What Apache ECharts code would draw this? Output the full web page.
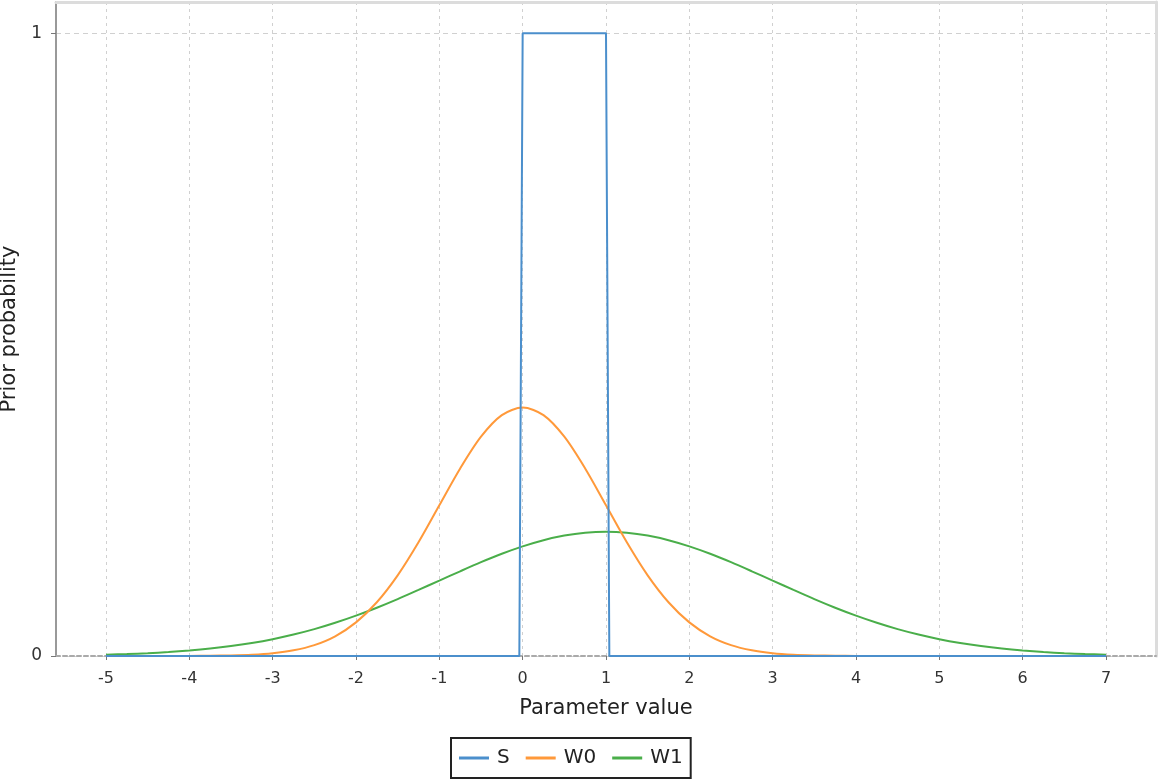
<!DOCTYPE html>
<html>
<head>
<meta charset="utf-8">
<script src="https://cdn.jsdelivr.net/npm/echarts@6/dist/echarts.min.js"></script>
<style>
html,body{margin:0;padding:0;background:#fff;}
#chart{width:1158px;height:782px;}
</style>
</head>
<body>
<div id="chart"></div>
<script>
// Tick labels
var xTicks = [-5, -4, -3, -2, -1, 0, 1, 2, 3, 4, 5, 6, 7];
var yTicks = [0, 1];

// Sample positions for the smooth curves
var xs = [-5, -4.75, -4.5, -4.25, -4, -3.75, -3.5, -3.25, -3, -2.75, -2.5, -2.25, -2, -1.75, -1.5, -1.25,
  -1, -0.75, -0.5, -0.25, 0, 0.25, 0.5, 0.75, 1, 1.25, 1.5, 1.75, 2, 2.25, 2.5, 2.75, 3, 3.25, 3.5, 3.75,
  4, 4.25, 4.5, 4.75, 5, 5.25, 5.5, 5.75, 6, 6.25, 6.5, 6.75, 7];

// W0 values
var w0 = [0, 0, 0, 0, 0.0001, 0.0004, 0.0009, 0.0020, 0.0044, 0.0091, 0.0175, 0.0317, 0.0540, 0.0863, 0.1295, 0.1826,
  0.2420, 0.3011, 0.3521, 0.3867, 0.3989, 0.3867, 0.3521, 0.3011, 0.2420, 0.1826, 0.1295, 0.0863, 0.0540, 0.0317, 0.0175, 0.0091,
  0.0044, 0.0020, 0.0009, 0.0004, 0.0001, 0, 0, 0, 0, 0, 0, 0, 0, 0, 0, 0, 0];

// W1 values
var w1 = [0.0022, 0.0032, 0.0045, 0.0064, 0.0088, 0.0119, 0.0159, 0.0209, 0.0270, 0.0344, 0.0431, 0.0533, 0.0648, 0.0775, 0.0913, 0.1061,
  0.1210, 0.1360, 0.1506, 0.1641, 0.1760, 0.1859, 0.1933, 0.1979, 0.1995, 0.1979, 0.1933, 0.1859, 0.1760, 0.1641, 0.1506, 0.1360,
  0.1210, 0.1061, 0.0913, 0.0775, 0.0648, 0.0533, 0.0431, 0.0344, 0.0270, 0.0209, 0.0159, 0.0119, 0.0088, 0.0064, 0.0045, 0.0032, 0.0022];

// S (uniform) breakpoints
var sX = [-5, -0.04, 0, 1, 1.04, 7];
var sY = [0, 0, 1, 1, 0, 0];

function pairs(a, b) { return a.map(function (v, i) { return [v, b[i]]; }); }

var FONT = 'DejaVu Sans';
var chart = echarts.init(document.getElementById('chart'), null, {renderer: 'canvas'});
chart.setOption({
  animation: false,
  backgroundColor: '#fff',
  textStyle: {fontFamily: FONT},
  grid: {left: 56, right: 2, top: 2, bottom: 126, containLabel: false, outerBoundsMode: 'none'},
  legend: {
    data: [{name: 'S', icon: 'rect'}, {name: 'W0', icon: 'rect'}, {name: 'W1', icon: 'rect'}],
    left: 451, top: 738,
    orient: 'horizontal',
    itemWidth: 30, itemHeight: 3, itemGap: 16,
    padding: [10, 8, 10, 8],
    borderColor: '#222', borderWidth: 2,
    textStyle: {fontFamily: FONT, fontSize: 20, color: '#222', padding: [0, 0, 0, 3]}
  },
  xAxis: [{
    type: 'value', min: -5.6, max: 7.6,
    name: 'Parameter value', nameLocation: 'middle', nameGap: 42,
    nameTextStyle: {fontFamily: FONT, fontSize: 21, color: '#222'},
    axisLine: {show: true, onZero: false, lineStyle: {color: '#aaa', width: 2, type: [4, 3]}},
    axisTick: {show: true, length: 4, customValues: xTicks, lineStyle: {color: '#777'}},
    axisLabel: {customValues: xTicks, fontFamily: FONT, fontSize: 16, color: '#333', margin: 15},
    splitLine: {show: true, lineStyle: {color: '#d0d0d0', type: [3, 4], width: 1}}
  }, {
    type: 'value', min: -5.6, max: 7.6, position: 'top',
    axisLine: {show: true, onZero: false, lineStyle: {color: '#dcdcdc', width: 3}},
    axisTick: {show: false}, axisLabel: {show: false}, splitLine: {show: false}
  }],
  yAxis: [{
    type: 'value', min: 0, max: 1.05, interval: 1,
    name: 'Prior probability', nameLocation: 'middle', nameGap: 35,
    nameTextStyle: {fontFamily: FONT, fontSize: 21, color: '#222'},
    axisLine: {show: true, onZero: false, lineStyle: {color: '#999', width: 2}},
    axisTick: {show: true, length: 5, customValues: yTicks, lineStyle: {color: '#777'}},
    axisLabel: {customValues: yTicks, fontFamily: FONT, fontSize: 17, color: '#333', margin: 14},
    splitLine: {show: true, lineStyle: {color: '#d0d0d0', type: [5, 4], width: 1}}
  }, {
    type: 'value', min: 0, max: 1.05, position: 'right',
    axisLine: {show: true, onZero: false, lineStyle: {color: '#dcdcdc', width: 3}},
    axisTick: {show: false}, axisLabel: {show: false}, splitLine: {show: false}
  }],
  series: [{
    name: 'W1', type: 'line', z: 2, symbol: 'none', smooth: 0.3,
    data: pairs(xs, w1), lineStyle: {color: '#4aae4a', width: 2}, itemStyle: {color: '#4aae4a'}
  }, {
    name: 'W0', type: 'line', z: 3, symbol: 'none', smooth: 0.3,
    data: pairs(xs, w0), lineStyle: {color: '#ff993a', width: 2}, itemStyle: {color: '#ff993a'}
  }, {
    name: 'S', type: 'line', z: 4, symbol: 'none', smooth: false,
    data: pairs(sX, sY), lineStyle: {color: '#4b8fcc', width: 2}, itemStyle: {color: '#4b8fcc'}
  }]
});
</script>
</body>
</html>
